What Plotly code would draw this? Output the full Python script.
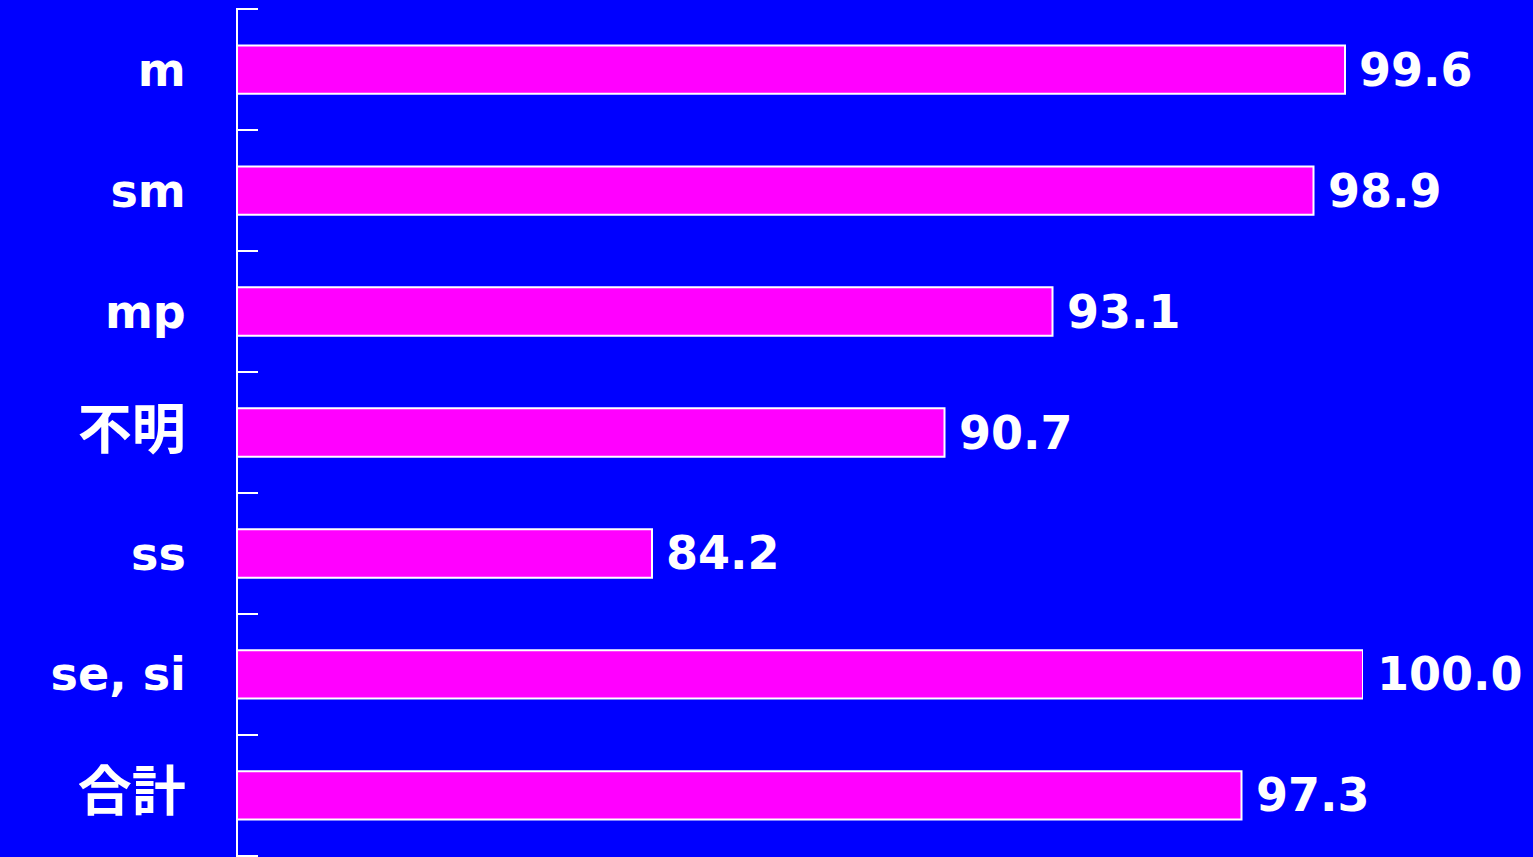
import plotly.graph_objects as go

categories = ["m", "sm", "mp", "不明", "ss", "se, si", "合計"]
values = [99.6, 98.9, 93.1, 90.7, 84.2, 100.0, 97.3]
labels = [f"{v:.1f}" for v in values]

FONT = "DejaVu Sans, Noto Sans CJK JP, sans-serif"


def tick_label(c):
    if any(ord(ch) > 0x2E80 for ch in c):
        return f"<span style='font-size:54px'>{c}</span>"
    return c


fig = go.Figure()
fig.add_trace(go.Bar(
    x=values, y=categories, orientation="h",
    marker=dict(color="#FF00FF", line=dict(color="white", width=2)),
    width=0.4,
    hoverinfo="skip",
))

for c, v, t in zip(categories, values, labels):
    fig.add_annotation(
        x=v, y=c, text=t, showarrow=False, xanchor="left", yanchor="middle",
        xshift=12, font=dict(family=FONT, size=46, color="white", weight="bold"),
    )

fig.update_layout(
    width=1533, height=857,
    margin=dict(l=238, r=170, t=8, b=0),
    paper_bgcolor="#0000FF", plot_bgcolor="#0000FF",
    showlegend=False,
)
fig.update_xaxes(range=[75, 100], visible=False, showgrid=False, zeroline=False)
fig.update_yaxes(
    type="category", range=[6.51, -0.51],
    tickvals=categories, ticktext=[tick_label(c) for c in categories],
    showline=True, linecolor="white", linewidth=2,
    ticks="inside", tickson="boundaries", ticklen=20, tickwidth=2, tickcolor="white",
    showgrid=False, zeroline=False,
    tickfont=dict(family=FONT, size=46, color="white", weight="bold"),
    ticklabelstandoff=41,
)

fig.write_html(
    "out.html",
    config={"displayModeBar": False},
    post_script="document.body.style.margin='0';document.body.style.background='#0000FF';",
)
